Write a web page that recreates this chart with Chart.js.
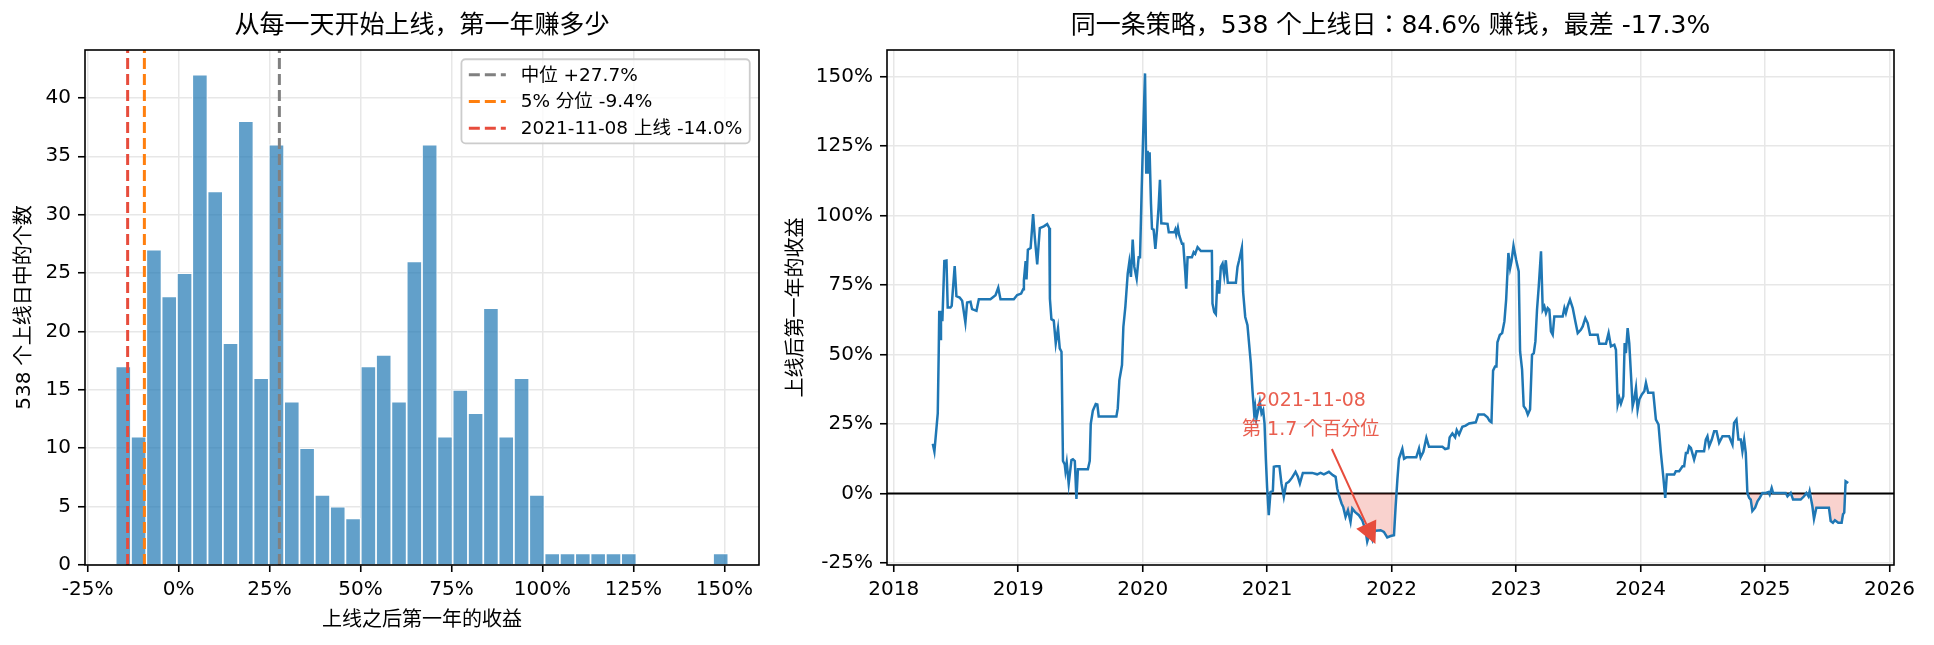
<!DOCTYPE html>
<html><head><meta charset="utf-8">
<script src="https://cdn.jsdelivr.net/npm/chart.js@4/dist/chart.umd.min.js"></script>
<style>
html,body{margin:0;padding:0;background:#fff;}
#wrap{position:relative;width:1934px;height:645px;overflow:hidden;background:#fff;}
#c1{position:absolute;left:0;top:0;width:780px;height:645px;}
#c2{position:absolute;left:780px;top:0;width:1154px;height:645px;}
</style></head><body>
<div id="wrap"><canvas id="c1" width="780" height="645"></canvas><canvas id="c2" width="1154" height="645"></canvas></div>
<script>
// ---------------- data ----------------
const histBinStart = -17.3;
const histBinWidth = 4.21;
const histCounts = [17,11,27,23,25,42,32,19,38,16,36,14,10,6,5,4,17,18,14,26,36,11,15,13,22,11,16,6,1,1,1,1,1,1,0,0,0,0,0,1];
const histXTicks = [-25,0,25,50,75,100,125,150];
const histYTicks = [0,5,10,15,20,25,30,35,40];
const medianReturn = 27.7;
const p5Return = -9.4;
const launchDate = '2021-11-08';
const launchReturn = -14.0;
const launchPercentile = 1.7;
const launchCount = 538;
const winShare = 84.6;
const worstReturn = -17.3;

const launchYears = [
2018.314,2018.327,2018.354,2018.362,2018.366,2018.375,2018.380,2018.391,2018.407,2018.424,
2018.434,2018.456,2018.466,2018.490,2018.504,2018.530,2018.550,2018.576,2018.590,2018.617,
2018.630,2018.665,2018.684,2018.777,2018.818,2018.840,2018.858,2018.965,2018.992,2019.024,
2019.040,2019.046,2019.060,2019.067,2019.078,2019.100,2019.120,2019.134,2019.153,2019.174,
2019.206,2019.233,2019.250,2019.255,2019.267,2019.286,2019.302,2019.320,2019.334,2019.348,
2019.360,2019.374,2019.380,2019.390,2019.406,2019.428,2019.440,2019.455,2019.468,2019.480,
2019.560,2019.575,2019.583,2019.600,2019.623,2019.636,2019.647,2019.789,2019.800,2019.813,
2019.834,2019.845,2019.861,2019.880,2019.893,2019.906,2019.920,2019.933,2019.952,2019.968,
2019.979,2019.992,2020.005,2020.019,2020.029,2020.040,2020.048,2020.056,2020.067,2020.075,
2020.088,2020.102,2020.115,2020.128,2020.139,2020.150,2020.200,2020.210,2020.254,2020.262,
2020.270,2020.283,2020.294,2020.316,2020.326,2020.342,2020.350,2020.361,2020.396,2020.410,
2020.422,2020.441,2020.468,2020.556,2020.561,2020.575,2020.588,2020.600,2020.615,2020.628,
2020.642,2020.655,2020.668,2020.684,2020.749,2020.762,2020.775,2020.797,2020.807,2020.824,
2020.842,2020.869,2020.882,2020.896,2020.904,2020.914,2020.928,2020.941,2020.955,2020.968,
2020.979,2020.990,2021.000,2021.013,2021.027,2021.046,2021.054,2021.072,2021.099,2021.115,
2021.134,2021.153,2021.174,2021.200,2021.228,2021.247,2021.263,2021.287,2021.362,2021.402,
2021.429,2021.456,2021.496,2021.528,2021.550,2021.563,2021.576,2021.598,2021.611,2021.630,
2021.649,2021.670,2021.684,2021.705,2021.737,2021.764,2021.790,2021.804,2021.823,2021.845,
2021.855,2021.871,2021.912,2021.938,2021.965,2021.992,2022.019,2022.032,2022.046,2022.059,
2022.086,2022.100,2022.118,2022.198,2022.220,2022.233,2022.255,2022.279,2022.300,2022.408,
2022.430,2022.456,2022.466,2022.488,2022.510,2022.523,2022.542,2022.568,2022.595,2022.622,
2022.676,2022.697,2022.743,2022.770,2022.788,2022.802,2022.815,2022.831,2022.842,2022.850,
2022.869,2022.888,2022.906,2022.920,2022.938,2022.952,2022.963,2022.979,2023.000,2023.021,
2023.032,2023.048,2023.061,2023.080,2023.094,2023.112,2023.128,2023.142,2023.155,2023.168,
2023.182,2023.200,2023.214,2023.227,2023.240,2023.254,2023.267,2023.280,2023.294,2023.307,
2023.374,2023.388,2023.400,2023.414,2023.433,2023.455,2023.476,2023.495,2023.520,2023.535,
2023.556,2023.575,2023.594,2023.655,2023.668,2023.722,2023.743,2023.762,2023.789,2023.802,
2023.816,2023.829,2023.842,2023.861,2023.872,2023.882,2023.896,2023.909,2023.922,2023.936,
2023.949,2023.963,2023.976,2023.990,2024.010,2024.030,2024.043,2024.061,2024.102,2024.123,
2024.144,2024.163,2024.182,2024.198,2024.211,2024.270,2024.283,2024.310,2024.337,2024.350,
2024.364,2024.377,2024.390,2024.404,2024.430,2024.449,2024.510,2024.524,2024.537,2024.551,
2024.572,2024.591,2024.610,2024.631,2024.658,2024.711,2024.738,2024.751,2024.770,2024.786,
2024.805,2024.818,2024.832,2024.845,2024.858,2024.872,2024.885,2024.898,2024.920,2024.939,
2024.957,2024.979,2025.005,2025.027,2025.037,2025.053,2025.064,2025.166,2025.180,2025.206,
2025.225,2025.286,2025.313,2025.332,2025.348,2025.358,2025.380,2025.393,2025.412,2025.513,
2025.527,2025.545,2025.561,2025.588,2025.615,2025.626,2025.636,2025.647,2025.668
];
const firstYearReturns = [
17.9,15.1,28.8,51.4,65.7,55.6,65.7,62.0,83.6,83.8,
66.9,66.9,67.5,81.8,71.0,70.5,69.3,61.5,68.7,69.0,
66.3,65.7,69.9,69.9,71.3,74.0,69.9,69.9,71.4,71.9,
73.5,76.7,83.6,77.0,87.7,88.3,100.5,91.9,82.4,95.5,
96.1,96.9,95.5,70.0,62.7,62.2,54.0,59.4,52.2,51.0,
11.7,10.5,8.1,11.1,3.5,12.0,12.3,11.7,-2.0,8.7,
8.7,11.7,25.0,29.8,32.2,32.0,27.7,27.7,30.6,40.8,
46.2,59.9,67.1,79.1,83.3,77.9,91.3,81.5,77.3,85.0,
85.0,109.0,130.5,151.1,115.0,123.3,115.0,122.7,104.2,95.2,
94.9,88.0,94.6,103.0,112.8,97.2,97.0,94.0,94.0,94.9,
93.2,95.6,92.8,89.8,89.8,79.7,73.7,85.0,85.0,86.8,
86.2,88.6,87.2,87.2,68.3,65.3,64.5,76.7,71.9,81.5,
82.7,78.5,83.9,75.8,75.8,81.5,83.9,88.4,72.5,63.5,
60.5,46.8,37.2,28.8,31.2,27.0,30.0,33.0,28.8,30.0,
25.2,12.0,2.0,-7.8,0.5,1.0,9.6,9.8,9.8,3.6,
-1.2,3.6,4.2,5.7,7.8,6.0,3.6,7.4,7.4,6.9,
7.4,6.9,7.8,6.6,6.0,1.8,-0.5,-3.6,-4.8,-8.4,
-6.0,-10.2,-5.4,-6.6,-7.8,-9.6,-13.2,-17.3,-14.4,-16.7,
-14.0,-13.4,-13.2,-13.8,-15.8,-15.3,-15.0,-4.8,4.8,12.5,
16.1,12.5,13.0,13.0,16.2,13.0,15.0,20.0,16.8,16.8,
16.0,16.3,20.2,21.6,20.2,22.8,21.2,24.0,24.4,25.2,
25.6,28.4,28.4,27.4,26.0,25.6,44.2,45.7,45.7,54.4,
57.0,57.7,61.9,69.7,86.5,81.1,83.5,89.1,84.1,79.9,
51.1,44.6,31.4,30.2,28.4,30.2,49.9,50.5,54.7,66.1,
74.5,87.1,66.1,67.3,64.9,66.7,66.1,58.3,57.1,63.7,
63.7,66.7,64.9,67.3,69.7,66.7,61.9,57.7,58.9,60.1,
63.1,61.3,57.1,57.1,53.9,53.9,57.7,52.9,53.5,51.7,
32.0,34.4,32.3,35.0,54.1,50.5,59.5,54.1,43.4,31.4,
33.8,38.0,30.2,33.8,35.6,36.8,39.8,36.2,36.2,26.6,
24.8,14.6,6.2,-1.6,6.8,6.8,8.0,8.0,9.8,9.8,
14.6,14.6,17.0,16.4,12.2,15.2,15.2,19.4,20.6,17.0,
19.4,22.4,22.4,18.2,20.6,20.6,17.6,25.4,26.6,19.4,
19.4,15.2,19.4,14.6,0.2,-1.6,-2.2,-6.3,-5.1,-2.8,
-1.6,0.2,0.2,0.5,-0.4,2.0,0.2,0.2,-1.0,0.2,
-2.2,-2.2,-1.0,0.2,-1.0,0.8,-4.6,-9.1,-5.1,-5.1,
-9.9,-10.5,-9.6,-10.5,-10.5,-7.5,-6.9,4.4,3.8
];
const lineYTicks = [-25,0,25,50,75,100,125,150];
const lineXTicks = [2018,2019,2020,2021,2022,2023,2024,2025,2026];

// ---------------- styling ----------------
const FONT = '"DejaVu Sans","Noto Sans CJK JP","Noto Sans CJK SC",sans-serif';
const RED = '#e74c3c';
const BLUE = '#1f77b4';
Chart.defaults.font.family = FONT;
Chart.defaults.color = '#000';
Chart.defaults.animation = false;

const gridOpts = {color:'#e7e7e7', lineWidth:1.5, tickColor:'#000', tickLength:7, tickWidth:1.6, drawTicks:true};
const tickFont = {size:20};

const titlePlugin = {
  id:'figTitle',
  afterDraw(chart, args, opts){
    const ctx = chart.ctx, a = chart.chartArea;
    ctx.save();
    ctx.font = '25px ' + FONT;
    ctx.fillStyle = '#000';
    ctx.textAlign = 'center';
    ctx.textBaseline = 'bottom';
    ctx.fillText(opts.text, (a.left + a.right)/2, a.top - 11);
    ctx.restore();
  }
};
const framePlugin = {
  id:'frame',
  afterDraw(chart){
    const ctx = chart.ctx, a = chart.chartArea;
    ctx.save();
    ctx.strokeStyle = '#000';
    ctx.lineWidth = 1.6;
    ctx.strokeRect(a.left, a.top, a.right - a.left, a.bottom - a.top);
    ctx.restore();
  }
};

function pct(v){ return v + '%'; }
function signed(v){ return (v > 0 ? '+' : '') + v.toFixed(1) + '%'; }

// ---------------- left: histogram ----------------
const histEdgeMax = histBinStart + histCounts.length * histBinWidth;
const histMargin = 0.05 * (histEdgeMax - histBinStart);
const histYMax = Math.max(...histCounts) * 1.05;
const histBars = histCounts.map((c, i) => ({x: histBinStart + (i + 0.5) * histBinWidth, y: c}));
const vline = v => [{x:v, y:0}, {x:v, y:histYMax}];

const legendItems = [
  {label:'中位 ' + signed(medianReturn), color:'#808080'},
  {label:'5% 分位 ' + signed(p5Return), color:'#ff7f0e'},
  {label:launchDate + ' 上线 ' + signed(launchReturn), color:RED}
];

const legendPlugin = {
  id:'histLegend',
  afterDatasetsDraw(chart){
    const ctx = chart.ctx, a = chart.chartArea;
    const fs = 18.5;
    ctx.save();
    ctx.font = fs + 'px ' + FONT;
    const maxW = Math.max(...legendItems.map(i => ctx.measureText(i.label).width));
    const pad = 0.4*fs, hl = 2*fs, htp = 0.8*fs;
    const w = pad*2 + hl + htp + maxW;
    const rowH = 26.7;
    const h = rowH*3 + 4;
    const x = a.right - 0.5*fs - w, y = a.top + 0.5*fs;
    ctx.beginPath();
    if (ctx.roundRect) ctx.roundRect(x, y, w, h, 4); else ctx.rect(x, y, w, h);
    ctx.fillStyle = 'rgba(255,255,255,0.8)';
    ctx.fill();
    ctx.strokeStyle = '#cccccc';
    ctx.lineWidth = 1.8;
    ctx.stroke();
    legendItems.forEach((it, k) => {
      const cy = y + 15.6 + k*rowH;
      ctx.beginPath();
      ctx.setLineDash([11,5]);
      ctx.strokeStyle = it.color;
      ctx.lineWidth = 3;
      ctx.moveTo(x + pad, cy);
      ctx.lineTo(x + pad + hl, cy);
      ctx.stroke();
      ctx.setLineDash([]);
      ctx.fillStyle = '#000';
      ctx.textAlign = 'left';
      ctx.textBaseline = 'middle';
      ctx.fillText(it.label, x + pad + hl + htp, cy + 1);
    });
    ctx.restore();
  }
};

const vlineDs = (v, color) => ({
  type:'line', data:vline(v), borderColor:color, borderWidth:3, borderDash:[11,5],
  pointRadius:0, fill:false, order:0
});

new Chart(document.getElementById('c1'), {
  type:'bar',
  data:{datasets:[
    {type:'bar', data:histBars, backgroundColor:'rgba(31,119,180,0.7)', borderColor:'rgba(255,255,255,0.75)',
     borderWidth:1.2, barPercentage:1, categoryPercentage:1, order:1},
    vlineDs(medianReturn, '#808080'),
    vlineDs(p5Return, '#ff7f0e'),
    vlineDs(launchReturn, RED)
  ]},
  options:{
    responsive:false, animation:false,
    layout:{padding:{top:50, right:21, bottom:0, left:0}},
    plugins:{legend:{display:false}, tooltip:{enabled:false}, figTitle:{text:'从每一天开始上线，第一年赚多少'}},
    scales:{
      x:{type:'linear', offset:false, min:histBinStart - histMargin, max:histEdgeMax + histMargin,
         grid:Object.assign({offset:false}, gridOpts), border:{display:false},
         afterBuildTicks:s => { s.ticks = histXTicks.map(v => ({value:v})); },
         afterFit:s => { s.height = 80; },
         ticks:{font:tickFont, padding:6, autoSkip:false, maxRotation:0, callback:v => pct(v)},
         title:{display:true, text:'上线之后第一年的收益', font:{size:20}, padding:{top:0, bottom:12}}},
      y:{type:'linear', min:0, max:histYMax,
         grid:gridOpts, border:{display:false},
         afterBuildTicks:s => { s.ticks = histYTicks.map(v => ({value:v})); },
         afterFit:s => { s.width = 85; },
         ticks:{font:tickFont, padding:7},
         title:{display:true, text:launchCount + ' 个上线日中的个数', font:{size:20}, padding:{top:13, bottom:0}}}
    }
  },
  plugins:[titlePlugin, legendPlugin, framePlugin]
});

// ---------------- right: line ----------------
const lxMin = Math.min(...launchYears), lxMax = Math.max(...launchYears);
const lyMin = Math.min(...firstYearReturns), lyMax = Math.max(...firstYearReturns);
const lxm = 0.05*(lxMax - lxMin), lym = 0.05*(lyMax - lyMin);
const linePts = launchYears.map((x, i) => ({x, y:firstYearReturns[i]}));
const negRunPts = launchYears.map((x, i) => {
  const v = firstYearReturns[i];
  const prevNeg = i > 0 && firstYearReturns[i-1] < 0;
  const nextNeg = i < firstYearReturns.length - 1 && firstYearReturns[i+1] < 0;
  return {x, y:(v < 0 && (prevNeg || nextNeg)) ? v : null};
});

const annot = {textX:2021.35, line1Y:33.4, line2Y:22.8, tailX:2021.52, tailY:16.0, tipX:2021.87, tipY:-18.2};

const zeroPlugin = {
  id:'zeroLine',
  beforeDatasetsDraw(chart){
    const ctx = chart.ctx, a = chart.chartArea;
    const y = chart.scales.y.getPixelForValue(0);
    ctx.save();
    ctx.strokeStyle = '#000';
    ctx.lineWidth = 2;
    ctx.beginPath(); ctx.moveTo(a.left, y); ctx.lineTo(a.right, y); ctx.stroke();
    ctx.restore();
  }
};
const annotPlugin = {
  id:'annot',
  afterDatasetsDraw(chart){
    const ctx = chart.ctx, xs = chart.scales.x, ys = chart.scales.y;
    const tx = xs.getPixelForValue(annot.textX);
    ctx.save();
    ctx.fillStyle = RED;
    ctx.globalAlpha = 0.9;
    ctx.font = '19px ' + FONT;
    ctx.textAlign = 'center';
    ctx.textBaseline = 'middle';
    ctx.fillText(launchDate, tx, ys.getPixelForValue(annot.line1Y));
    ctx.fillText('第 ' + launchPercentile + ' 个百分位', tx, ys.getPixelForValue(annot.line2Y));
    ctx.globalAlpha = 1;
    const x0 = xs.getPixelForValue(annot.tailX), y0 = ys.getPixelForValue(annot.tailY);
    const x1 = xs.getPixelForValue(annot.tipX), y1 = ys.getPixelForValue(annot.tipY);
    const ang = Math.atan2(y1 - y0, x1 - x0);
    const hlen = 22, hw = 11;
    const bx = x1 - hlen*Math.cos(ang), by = y1 - hlen*Math.sin(ang);
    ctx.strokeStyle = RED;
    ctx.lineWidth = 2;
    ctx.beginPath(); ctx.moveTo(x0, y0); ctx.lineTo(bx, by); ctx.stroke();
    ctx.beginPath();
    ctx.moveTo(x1, y1);
    ctx.lineTo(bx + hw*Math.sin(ang), by - hw*Math.cos(ang));
    ctx.lineTo(bx - hw*Math.sin(ang), by + hw*Math.cos(ang));
    ctx.closePath();
    ctx.fill();
    ctx.restore();
  }
};

new Chart(document.getElementById('c2'), {
  type:'line',
  data:{datasets:[
    {data:negRunPts, borderWidth:0, borderColor:'rgba(0,0,0,0)', pointRadius:0, spanGaps:false,
     fill:{target:{value:0}}, backgroundColor:'rgba(231,76,60,0.25)', order:2},
    {data:linePts, borderColor:BLUE, borderWidth:2.5, pointRadius:0, fill:false, tension:0, order:1}
  ]},
  options:{
    responsive:false, animation:false,
    layout:{padding:{top:50, right:40, bottom:0, left:0}},
    plugins:{legend:{display:false}, tooltip:{enabled:false},
      figTitle:{text:'同一条策略，' + launchCount + ' 个上线日：' + winShare + '% 赚钱，最差 ' + worstReturn + '%'}},
    scales:{
      x:{type:'linear', min:lxMin - lxm, max:lxMax + lxm,
         grid:gridOpts, border:{display:false},
         afterBuildTicks:s => { s.ticks = lineXTicks.map(v => ({value:v})); },
         afterFit:s => { s.height = 80; },
         ticks:{font:tickFont, padding:6, autoSkip:false, maxRotation:0, callback:v => String(v)}},
      y:{type:'linear', min:lyMin - lym, max:lyMax + lym,
         grid:gridOpts, border:{display:false},
         afterBuildTicks:s => { s.ticks = lineYTicks.map(v => ({value:v})); },
         afterFit:s => { s.width = 107; },
         ticks:{font:tickFont, padding:7, callback:v => pct(v)},
         title:{display:true, text:'上线后第一年的收益', font:{size:20}, padding:{top:5, bottom:0}}}
    }
  },
  plugins:[titlePlugin, zeroPlugin, annotPlugin, framePlugin]
});
</script>
</body></html>
